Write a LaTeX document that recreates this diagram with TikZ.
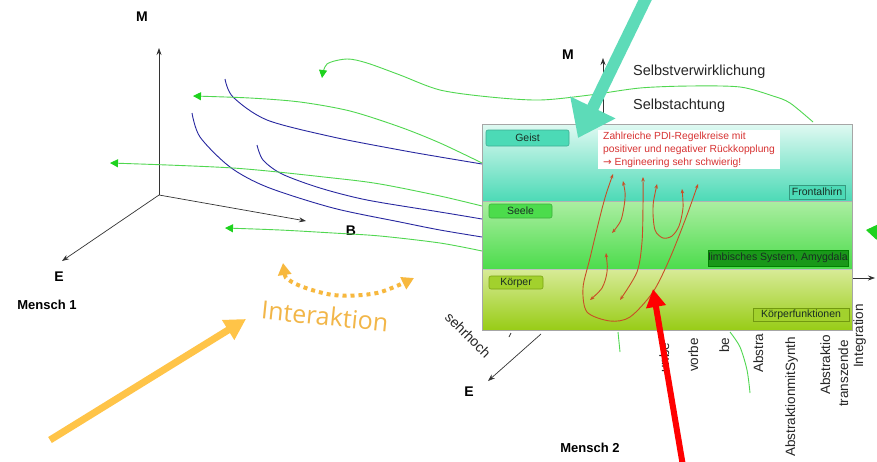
\documentclass[tikz,border=0pt]{standalone}
\usepackage{fontspec}
\setmainfont{Liberation Sans}
\newfontfamily\interfont{Open Sans}
\newfontfamily\arrfont{DejaVu Sans}
\usetikzlibrary{arrows.meta}
\definecolor{glinc}{RGB}{80,215,80}
\definecolor{gtip}{RGB}{30,210,30}
\definecolor{blinc}{RGB}{40,40,160}
\definecolor{tealar}{RGB}{93,219,184}
\definecolor{orgar}{RGB}{255,196,72}
\definecolor{orgdot}{RGB}{247,184,62}
\definecolor{orgtxt}{RGB}{242,182,72}
\definecolor{redc}{RGB}{200,78,38}
\definecolor{redtxt}{RGB}{215,50,50}
\definecolor{geisttop}{RGB}{224,249,242}
\definecolor{geistbot}{RGB}{76,218,182}
\definecolor{seeletop}{RGB}{172,238,162}
\definecolor{seelebot}{RGB}{76,220,76}
\definecolor{koerptop}{RGB}{216,235,152}
\definecolor{koerpbot}{RGB}{152,204,22}
\definecolor{labtext}{RGB}{25,45,35}
\begin{document}
\begin{tikzpicture}[x=1pt,y=-1pt,
  axis/.style={draw=black!80, line width=0.7pt, -{Stealth[length=7pt,width=5pt]}},
  glin/.style={draw=glinc, line width=0.9pt},
  gar/.style={glin, -{Triangle[length=8pt,width=8pt,color=gtip]}},
  blin/.style={draw=blinc, line width=0.9pt},
  redcurve/.style={draw=redc, line width=0.9pt, {Stealth[length=4.5pt,width=3.5pt]}-{Stealth[length=4.5pt,width=3.5pt]}},
  lab/.style={rounded corners=2pt, inner sep=0pt, font=\fontsize{10.5}{12}\selectfont, text=labtext, line width=0.6pt},
  rotword/.style={rotate=90, anchor=base west, inner sep=0pt, font=\fontsize{13.5}{16}\selectfont, text=black!85},
  axlab/.style={font=\fontsize{14}{16}\selectfont\bfseries, inner sep=0pt},
  menlab/.style={font=\fontsize{13}{15}\selectfont\bfseries, inner sep=0pt},
  bigtext/.style={font=\fontsize{14.5}{17}\selectfont, inner sep=0pt, anchor=base west, text=black!85}
]
\useasboundingbox (0,0) rectangle (877,461);
\clip (0,0) rectangle (877,461);
\fill[white] (0,0) rectangle (877,461);

% ---------- Mensch 1 axes ----------
\coordinate (o1) at (159,195);
\coordinate (m1) at (159,48);
\coordinate (b1) at (306,221);
\coordinate (e1) at (62,261);
\draw[axis] (o1) -- (m1);
\draw[axis] (o1) -- (b1);
\draw[axis] (o1) -- (e1);
\node[axlab] (lM1) at (142,17) {M};
\node[axlab] (lB1) at (351,231) {B};
\node[axlab] (lE1) at (59,277) {E};
\node[menlab] (men1) at (47,305) {Mensch 1};

% ---------- blue curves ----------
\coordinate (bs1) at (225,79);  \coordinate (be1) at (482,164);
\coordinate (bs2) at (192,113); \coordinate (be2) at (482,237);
\coordinate (bs3) at (257,145); \coordinate (be3) at (482,219);
\draw[blin] plot[smooth] coordinates {(bs1) (233,97) (267,120) (333,137) (400,150) (440,157) (be1)};
\draw[blin] plot[smooth] coordinates {(bs2) (200,137) (230,167) (267,187) (333,208) (400,222) (440,230) (be2)};
\draw[blin] plot[smooth] coordinates {(bs3) (263,160) (282,174) (320,188) (367,200) (440,212) (be3)};

% ---------- green curves ----------
\coordinate (gs1) at (813,122); \coordinate (ge1) at (322,78);
\coordinate (gs2) at (482,163); \coordinate (ge2) at (193,96);
\coordinate (gs3) at (482,206); \coordinate (ge3) at (110,163);
\coordinate (gs4) at (482,251); \coordinate (ge4) at (225,228);
\draw[gar] plot[smooth] coordinates {(gs1) (790,103) (773,96) (740,87) (690,86) (640,88) (590,95) (540,100) (490,97) (440,90) (400,75) (367,63) (347,59) (327,64) (ge1)};
\draw[gar] plot[smooth] coordinates {(gs2) (440,143) (400,127) (350,111) (300,102) (250,98) (ge2)};
\draw[gar] plot[smooth] coordinates {(gs3) (440,196) (380,184) (333,178) (233,168) (ge3)};
\draw[gar] plot[smooth] coordinates {(gs4) (440,243) (380,236) (333,233) (280,230) (ge4)};
\coordinate (rg1) at (905,236); \coordinate (rg2) at (866,230);
\draw[glin, -{Triangle[length=12pt,width=16pt,color=gtip]}] (rg1) -- (rg2);

% ---------- Mensch 2 axes & texts ----------
\coordinate (o2) at (603,124);
\coordinate (m2) at (603,58);
\draw[axis] (o2) -- (m2);
\node[axlab] (lM2) at (568,55) {M};
\node[bigtext] (sv) at (633,75) {Selbstverwirklichung};
\node[bigtext] (sa) at (633,109) {Selbstachtung};
\coordinate (eo2) at (541,334);
\coordinate (e2) at (488,381);
\draw[axis] (eo2) -- (e2);
\node[axlab] (lE2) at (469,392) {E};
\node[rotate=-45, inner sep=0pt, font=\fontsize{14}{16}\selectfont, text=black!85] (sehr) at (468,335) {sehrhoch};
\coordinate (tk1) at (509,337); \coordinate (tk2) at (511,333);
\draw[black!80, line width=0.8pt] (tk1) -- (tk2);
\node[menlab] (men2) at (590,448) {Mensch 2};
\coordinate (bo2) at (850,278); \coordinate (b2) at (875,278);
\draw[axis] (bo2) -- (b2);

% rotated words
\node[rotword] (w1) at (669,373) {unbe};
\node[rotword] (w2) at (698,372) {vorbe};
\node[rotword] (w3) at (729,353) {be};
\node[rotword] (w4) at (763,373) {Abstra};
\node[rotword] (w5) at (795,457) {AbstraktionmitSynth};
\node[rotword] (w6) at (830,395) {Abstraktio};
\node[rotword] (w7) at (848,407) {transzende};
\node[rotword] (w8) at (863,368) {Integration};

% small green bits
\coordinate (sg1) at (618,332); \coordinate (sg2) at (620,352);
\draw[glin] (sg1) -- (sg2);
\coordinate (sg3) at (730,332); \coordinate (sg4) at (750,393);
\draw[glin] plot[smooth] coordinates {(sg3) (740,347) (747,370) (sg4)};

% ---------- the box ----------
\shade[top color=geisttop, bottom color=geistbot] (482,124) rectangle (852,201);
\shade[top color=seeletop, bottom color=seelebot] (482,201) rectangle (852,269);
\shade[top color=koerptop, bottom color=koerpbot] (482,269) rectangle (852,330);
\draw[black!30, line width=0.6pt] (482,201) -- (852,201);
\draw[black!25, line width=0.6pt] (482,269) -- (852,269);
\draw[black!35, line width=0.8pt] (482,124) rectangle (852,330);

\node[lab, fill=geistbot, draw=geistbot!80!black, minimum width=83pt, minimum height=16pt] (geist) at (527.5,138) {Geist};
\node[lab, fill=seelebot, draw=seelebot!80!black, minimum width=63pt, minimum height=14pt] (seele) at (520.5,211) {Seele};
\node[lab, fill=koerpbot!90!white, draw=koerpbot!80!black, minimum width=54pt, minimum height=13pt] (koerper) at (516,282.5) {Körper};
\node[lab, rounded corners=0pt, fill=geistbot, draw=geistbot!70!black, minimum width=56pt, minimum height=14pt] (front) at (817,192) {Frontalhirn};
\node[lab, rounded corners=0pt, fill=green!55!black!90, draw=green!50!black, minimum width=140pt, minimum height=16pt] (limb) at (778,258) {limbisches System, Amygdala};
\node[lab, rounded corners=0pt, fill=koerpbot!90!white, draw=koerpbot!75!black, minimum width=96pt, minimum height=13pt] (kfunk) at (801,314.5) {Körperfunktionen};

\node[anchor=north west, fill=white, inner xsep=5pt, inner ysep=2pt, align=left,
      font=\fontsize{10.3}{12.7}\selectfont, text=redtxt] (note) at (598,130)
      {Zahlreiche PDI-Regelkreise mit\\positiver und negativer Rückkopplung\\{\arrfont →} Engineering sehr schwierig!};

% red feedback curves
\coordinate (c1a) at (613,174); \coordinate (c1b) at (698,184);
\draw[redcurve] plot[smooth] coordinates {(c1a) (603,205) (590,258) (583,288) (587,312) (610,321) (630,317) (653,292) (670,258) (687,215) (c1b)};
\coordinate (c2a) at (623,181); \coordinate (c2b) at (612,233);
\draw[redcurve] plot[smooth] coordinates {(c2a) (625,198) (621,220) (c2b)};
\coordinate (c3a) at (643,177); \coordinate (c3b) at (620,300);
\draw[redcurve] plot[smooth] coordinates {(c3a) (643,205) (642,242) (637,272) (c3b)};
\coordinate (c4a) at (606,253); \coordinate (c4b) at (590,300);
\draw[redcurve] plot[smooth] coordinates {(c4a) (607,272) (602,288) (c4b)};
\coordinate (c5a) at (657,184); \coordinate (c5b) at (682,189);
\draw[redcurve] plot[smooth] coordinates {(c5a) (653,208) (655,230) (663,238) (672,236) (679,226) (683,208) (c5b)};

% ---------- Interaktion ----------
\node[rotate=-5.8, inner sep=0pt, text=orgtxt, font=\interfont\fontsize{25}{30}\selectfont] (inter) at (325,316) {Interaktion};
\coordinate (ia) at (283,263); \coordinate (ib) at (414,278);
\draw[orgdot, line width=4pt, dash pattern=on 4pt off 4pt,
      {Triangle[length=12pt,width=13pt]}-{Triangle[length=12pt,width=13pt]}]
      plot[smooth] coordinates {(ia) (292,282) (333,295) (377,293) (ib)};

% ---------- big arrows ----------
\coordinate (ta) at (648,-6); \coordinate (tb) at (578,138);
\draw[tealar, line width=12pt, -{Triangle[length=34pt,width=48pt]}] (ta) -- (tb);
\coordinate (oa) at (50,440); \coordinate (ob) at (246,319);
\draw[orgar, line width=7pt, -{Triangle[length=21pt,width=22pt]}] (oa) -- (ob);
\coordinate (ra) at (684,472); \coordinate (rb) at (653,289);
\draw[red, line width=6pt, -{Triangle[length=18pt,width=19pt]}] (ra) -- (rb);
\end{tikzpicture}
\end{document}
